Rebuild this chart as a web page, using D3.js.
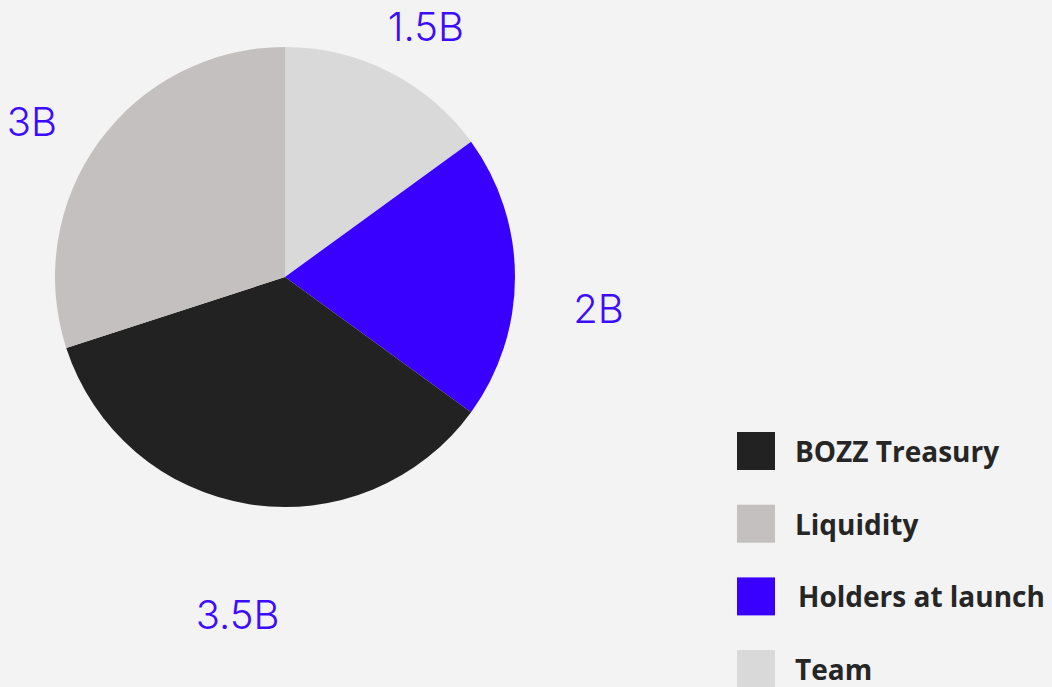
<!DOCTYPE html>
<html>
<head>
<meta charset="utf-8">
<script src="https://cdn.jsdelivr.net/npm/d3@7"></script>
<style>
  html, body { margin: 0; padding: 0; background: #f3f3f3; }
  svg { display: block; }
</style>
</head>
<body>
<div id="chart"></div>
<script>
// Data (pie order, clockwise from 12 o'clock)
const categories = ["Team", "Holders at launch", "BOZZ Treasury", "Liquidity"];
const values = [1.5, 2, 3.5, 3];
const valueLabels = ["1.5B", "2B", "3.5B", "3B"];
const colors = ["#d9d9d9", "#3a00ff", "#222222", "#c4c0bf"];
const legendOrder = ["BOZZ Treasury", "Liquidity", "Holders at launch", "Team"];

const width = 1052, height = 687;
const cx = 285, cy = 277, radius = 230;
// label placement around the pie: distance from centre and angle nudge (degrees)
const labelRadius = [287, 315, 341, 297];
const labelNudge = [2.4, 5.7, -1, -4.5];

const svg = d3.select("#chart").append("svg")
    .attr("width", width)
    .attr("height", height);

svg.append("rect")
    .attr("width", width)
    .attr("height", height)
    .attr("fill", "#f3f3f3");

const g = svg.append("g")
    .attr("transform", `translate(${cx},${cy})`);

const pie = d3.pie().sort(null).value(d => d);
const arcs = pie(values);

const arc = d3.arc().innerRadius(0).outerRadius(radius);

g.selectAll("path.slice")
    .data(arcs)
    .join("path")
    .attr("class", "slice")
    .attr("fill", (d, i) => colors[i])
    .attr("d", arc);

// Value labels
g.selectAll("text.val")
    .data(arcs)
    .join("text")
    .attr("class", "val")
    .attr("transform", (d, i) => {
        const a = (d.startAngle + d.endAngle) / 2 + labelNudge[i] * Math.PI / 180;
        const r = labelRadius[i];
        return `translate(${r * Math.sin(a)},${-r * Math.cos(a)})`;
    })
    .attr("text-anchor", "middle")
    .attr("dominant-baseline", "central")
    .attr("font-family", "Inter, 'Open Sans', sans-serif")
    .attr("font-weight", 300)
    .attr("font-size", 40)
    .attr("fill", "#3d0cff")
    .text((d, i) => valueLabels[i]);

// Legend
const legend = svg.append("g")
    .attr("transform", "translate(737,432)");

const item = legend.selectAll("g.item")
    .data(legendOrder)
    .join("g")
    .attr("class", "item")
    .attr("transform", (d, i) => `translate(0,${i * 72.7})`);

item.append("rect")
    .attr("width", 38)
    .attr("height", 38)
    .attr("fill", d => colors[categories.indexOf(d)]);

item.append("text")
    .attr("x", d => d === "Holders at launch" ? 61 : 58)
    .attr("y", 30)
    .attr("font-family", "'Open Sans', sans-serif")
    .attr("font-weight", 700)
    .attr("font-size", 28)
    .attr("fill", "#262626")
    .text(d => d);
</script>
</body>
</html>
